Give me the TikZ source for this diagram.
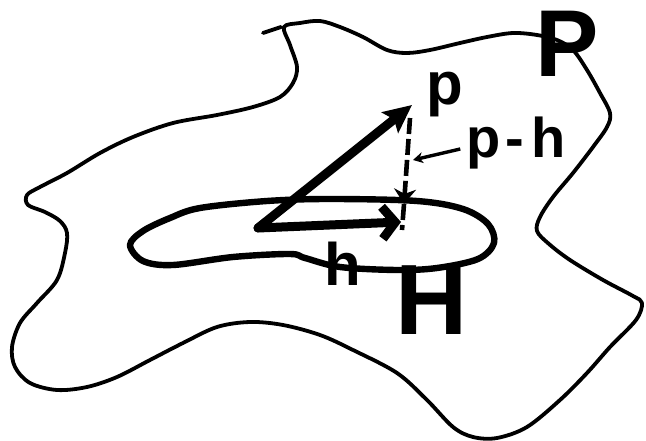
\documentclass[tikz,border=0pt]{standalone}
\usepackage{fontspec}
\setmainfont{Liberation Sans}
\usetikzlibrary{arrows.meta}
\begin{document}
\begin{tikzpicture}[x=1pt,y=-1pt,
  outline/.style={line width=3.8pt, line join=round, line cap=round},
  setline/.style={line width=6.4pt, line join=round},
  vec/.style={line width=9pt, line cap=round, line join=round},
  diff/.style={line width=4.6pt, dash pattern=on 16pt off 5pt},
  pointer/.style={line width=3.4pt, -{Stealth[length=10pt,width=11pt]}},
  lbl/.style={inner sep=0pt, font=\bfseries\fontsize{#1}{#1}\selectfont}]
\useasboundingbox (0,0) rectangle (646,441);

% outer region P
\draw[outline] plot[smooth cycle, tension=0.55] coordinates {
 (284,27) (300,23) (320,21) (340,27) (363,37) (387,50) (407,53) (430,50)
 (460,43) (487,37) (513,33) (537,35) (557,40) (573,50) (587,70) (600,93)
 (610,113) (607,127) (593,147) (573,173) (553,197) (540,217) (537,231)
 (549,244) (570,260) (603,280) (633,296) (642,303) (636,320) (610,347)
 (587,373) (560,400) (527,427) (497,438) (473,437) (453,427) (427,400)
 (397,373) (353,350) (320,335) (283,325) (250,322) (217,327) (183,343)
 (150,360) (117,377) (87,387) (57,390) (30,383) (15,367) (12,347) (20,323)
 (37,303) (57,280) (65,253) (67,233) (60,221) (45,212) (28,205) (27,195)
 (40,187) (67,173) (100,153) (133,137) (173,123) (217,115) (253,107)
 (280,97) (293,83) (297,67) (290,45)};
\draw[outline] (263,33) -- (281,27);

% subset H
\draw[setline] plot[smooth cycle, tension=0.55] coordinates {
 (130,245) (143,231) (170,218) (200,208) (267,201) (330,199) (417,201)
 (463,209) (488,224) (494,243) (478,259) (437,268) (397,270) (340,267)
 (305,258) (290,254) (233,257) (173,265) (143,261)};

% vectors
\coordinate (O) at (258,228);
\coordinate (Ptip) at (412,105);
\coordinate (Htip) at (401,222);
\coordinate (Dtop) at (410,118);
\coordinate (Dmid) at (404,204);
\coordinate (Dbot) at (402,230);
\draw[vec, -{Stealth[length=28pt,width=26pt,inset=5pt]}] (O) -- (Ptip);
\draw[vec, -{Straight Barb[length=13pt,width=32pt]}] (O) -- (Htip);
\draw[diff, -{Stealth[length=15pt,width=22pt]}] (Dtop) -- (Dmid);
\draw[diff] (Dmid) -- (Dbot);

% labels
\node[lbl=95] (bigP) at (567,44) {P};
\node[lbl=60] (labp) at (445,95) {p};
\node[lbl=56] (labph) at (516,143) {p\kern5pt-\kern7pt h};
\node[lbl=60] (labh) at (343,264) {h};
\node[lbl=100] (labH) at (432,300) {H};

\coordinate (phpt) at (413,160);
\draw[pointer] (labph.west) ++(-6,6) coordinate (phstart) (phstart) -- (phpt);
\end{tikzpicture}
\end{document}
